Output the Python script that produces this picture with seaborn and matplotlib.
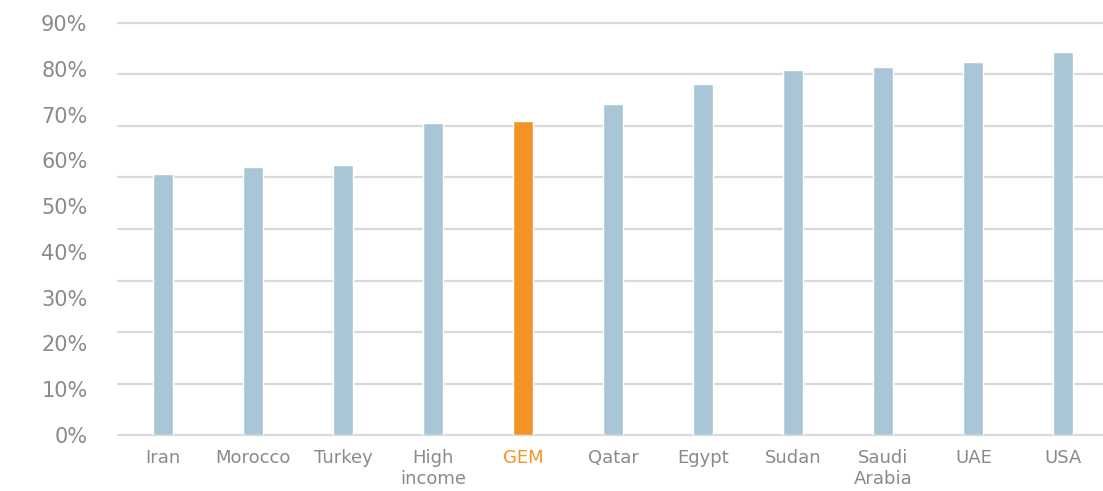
import numpy as np
import pandas as pd
import matplotlib
matplotlib.use("Agg")
import matplotlib.pyplot as plt
import seaborn as sns
from matplotlib.ticker import FixedLocator, PercentFormatter

categories = ["Iran", "Morocco", "Turkey", "High\nincome", "GEM", "Qatar",
              "Egypt", "Sudan", "Saudi\nArabia", "UAE", "USA"]
values = [57.1, 58.6, 59.0, 68.2, 68.7, 72.2, 76.6, 79.7, 80.3, 81.5, 83.7]
highlight = "GEM"
ytick_values = [0, 10, 20, 30, 40, 50, 60, 70, 80, 90]

BLUE = "#A9C6D7"
ORANGE = "#F39325"
GREY_TXT = "#8A8A8A"
GRID = "#D9D9D9"

sns.set_theme(style="white")
plt.rcParams['font.family'] = ['DejaVu Sans']

df = pd.DataFrame({"cat": categories, "val": values})
palette = {c: (ORANGE if c == highlight else BLUE) for c in categories}

fig = plt.figure(figsize=(11.03, 4.91), dpi=100)
ax = fig.add_axes([118 / 1103, 1 - 435 / 491, 1 - 118 / 1103, (435 - 23) / 491])

sns.barplot(data=df, x="cat", y="val", hue="cat", palette=palette,
            width=0.22, legend=False, ax=ax, saturation=1)

ax.set_ylim(0, 90)
ax.set_xlim(-0.5, 10.44)
ax.yaxis.remove_overlapping_locs = False
ax.yaxis.set_major_locator(FixedLocator(ytick_values))
ax.yaxis.set_major_formatter(PercentFormatter(decimals=0))
# gridlines drawn on 8 equal divisions of the axis height
ax.yaxis.set_minor_locator(FixedLocator(np.linspace(0, 90, 9)))
ax.grid(False)
ax.grid(True, which="minor", axis="y", color=GRID, linewidth=1.6)
for t in ax.yaxis.get_minor_ticks():
    t.gridline.set_clip_on(False)
ax.set_axisbelow(True)
ax.tick_params(axis="y", which="both", length=0, pad=22, labelsize=15, labelcolor=GREY_TXT)
ax.tick_params(axis="x", length=0, pad=10, labelsize=13, labelcolor=GREY_TXT)
for lbl in ax.get_xticklabels():
    lbl.set_linespacing(1.25)
    lbl.set_verticalalignment("top")
    if lbl.get_text() == highlight:
        lbl.set_color(ORANGE)
for s in ax.spines.values():
    s.set_visible(False)
ax.set_xlabel("")
ax.set_ylabel("")

fig.savefig("out.png", dpi=100)
